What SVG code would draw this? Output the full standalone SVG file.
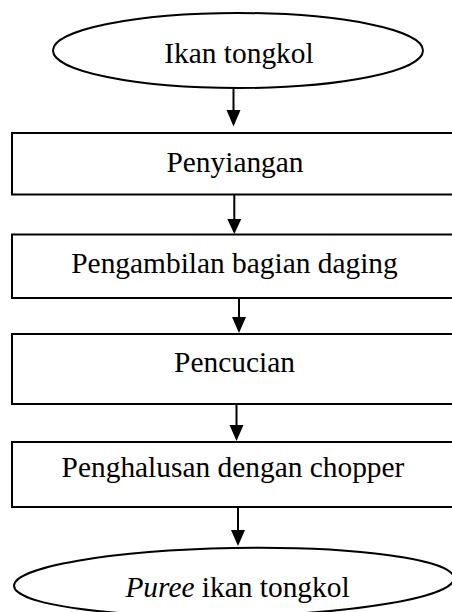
<svg xmlns="http://www.w3.org/2000/svg" width="452" height="612" viewBox="0 0 452 612">
  <defs>
    <style>
      .shape { fill: #ffffff; stroke: #000000; stroke-width: 2; }
      .label { font-family: "Liberation Serif", "Times New Roman", serif; font-size: 29.4px; fill: #000000; text-anchor: middle; }
      .flow { stroke: #000000; stroke-width: 2; fill: none; }
      .head { fill: #000000; stroke: none; }
    </style>
  </defs>
  <rect width="452" height="612" fill="#ffffff"/>

  <!-- process steps -->
  <g id="node-ikan-tongkol">
    <ellipse class="shape" cx="238" cy="50.5" rx="185" ry="37.5"/>
    <text class="label" x="239" y="63">Ikan tongkol</text>
  </g>
  <g id="node-penyiangan">
    <rect class="shape" x="12" y="133" width="460" height="61.5"/>
    <text class="label" x="235" y="172">Penyiangan</text>
  </g>
  <g id="node-pengambilan">
    <rect class="shape" x="12" y="234.5" width="460" height="63.5"/>
    <text class="label" x="234.5" y="273">Pengambilan bagian daging</text>
  </g>
  <g id="node-pencucian">
    <rect class="shape" x="12" y="334" width="460" height="70"/>
    <text class="label" x="234.5" y="372">Pencucian</text>
  </g>
  <g id="node-penghalusan">
    <rect class="shape" x="12" y="442" width="460" height="65"/>
    <text class="label" x="233" y="477">Penghalusan dengan chopper</text>
  </g>
  <g id="node-puree">
    <ellipse class="shape" cx="234" cy="582" rx="220" ry="34" transform="rotate(-1 234 582)"/>
    <text class="label" x="237.5" y="597"><tspan font-style="italic">Puree</tspan> ikan tongkol</text>
  </g>

  <!-- connectors -->
  <g id="connectors">
    <line class="flow" x1="233.5" y1="89" x2="233.5" y2="111"/>
    <polygon class="head" points="226.5,110 240.5,110 233.5,126.5"/>

    <line class="flow" x1="234.3" y1="195" x2="234.3" y2="220"/>
    <polygon class="head" points="227.3,219 241.3,219 234.3,234"/>

    <line class="flow" x1="239" y1="298" x2="239" y2="318"/>
    <polygon class="head" points="232,317 246,317 239,333"/>

    <line class="flow" x1="236.5" y1="404" x2="236.5" y2="426"/>
    <polygon class="head" points="229.5,425 243.5,425 236.5,441"/>

    <line class="flow" x1="238" y1="507" x2="238" y2="531"/>
    <polygon class="head" points="231,530 245,530 238,546"/>
  </g>
</svg>
